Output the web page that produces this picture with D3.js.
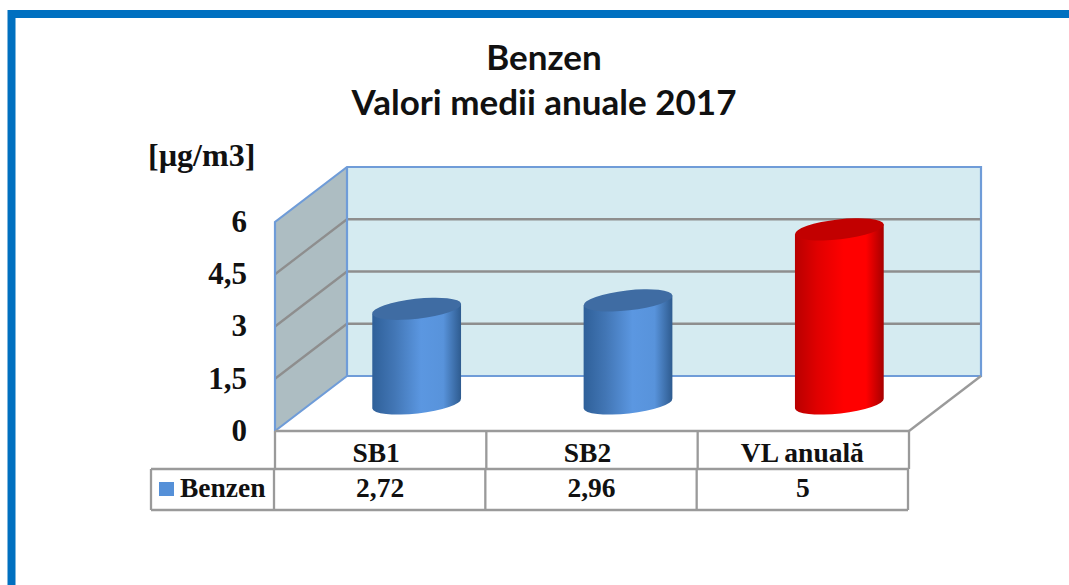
<!DOCTYPE html>
<html>
<head>
<meta charset="utf-8">
<script src="https://cdn.jsdelivr.net/npm/d3@7"></script>
<style>
  html, body { margin: 0; padding: 0; background: #fff; overflow: hidden; }
  svg { display: block; }
  .serif { font-family: "Liberation Serif", serif; font-weight: bold; fill: #111; }
  .title { font-family: Lato, sans-serif; font-weight: bold; fill: #111; font-size: 35px; }
</style>
</head>
<body>
<svg></svg>
<script>
// data
const categories = ["SB1", "SB2", "VL anuală"];
const values = [2.72, 2.96, 5];
const valueLabels = ["2,72", "2,96", "5"];
const tickValues = [0, 1.5, 3, 4.5, 6];
const tickLabels = ["0", "1,5", "3", "4,5", "6"];
const seriesName = "Benzen";
const titleLines = ["Benzen", "Valori medii anuale 2017"];
const unit = "[µg/m3]";

const width = 1069;
const height = 585;

// 3d box: front edge and how far the back wall is shifted
const front = { left: 275, right: 909, bottom: 431, top: 222 };
const depth = { x: 72, y: -55 };

const svg = d3.select("svg")
  .attr("width", width)
  .attr("height", height);

// scales, one per depth plane
const yFront = d3.scaleLinear().domain([0, 6]).range([front.bottom, front.top]);
const yBack = d3.scaleLinear().domain([0, 6]).range([front.bottom + depth.y, front.top + depth.y]);
const yMid = d3.scaleLinear().domain([0, 6]).range([front.bottom + depth.y / 2, front.top + depth.y / 2]);
const xFront = d3.scaleBand().domain(categories).range([front.left, front.right]);
const xMid = d3.scaleBand().domain(categories)
  .range([front.left + depth.x / 2, front.right + depth.x / 2])
  .paddingInner(0.58).paddingOuter(0.29);

// slide frame
svg.append("rect")
  .attr("x", 11.5).attr("y", 14)
  .attr("width", width + 40).attr("height", height + 40)
  .attr("fill", "none")
  .attr("stroke", "#0070c0")
  .attr("stroke-width", 8);

// title
svg.append("g").selectAll("text")
  .data(titleLines)
  .enter()
  .append("text")
  .attr("class", "title")
  .attr("x", 544)
  .attr("y", (d, i) => 70 + i * 45)
  .attr("text-anchor", "middle")
  .text(d => d);

svg.append("text")
  .attr("class", "serif")
  .attr("x", 148)
  .attr("y", 166)
  .attr("font-size", 32)
  .text(unit);

const wallStroke = "#6f9cd8";
const gridStroke = "#8e8e8e";
const backLeft = front.left + depth.x;
const backRight = front.right + depth.x;

// back wall
svg.append("rect")
  .attr("x", backLeft).attr("y", yBack(6))
  .attr("width", backRight - backLeft).attr("height", yBack(0) - yBack(6))
  .attr("fill", "#d5ebf1");

// side wall
svg.append("path")
  .attr("d", d3.line()([
    [front.left, yFront(0)], [front.left, yFront(6)],
    [backLeft, yBack(6)], [backLeft, yBack(0)]
  ]) + "Z")
  .attr("fill", "#adbdc2");

// gridlines
svg.append("g").selectAll("path")
  .data(tickValues.slice(1, -1))
  .enter()
  .append("path")
  .attr("d", d => d3.line()([[front.left, yFront(d)], [backLeft, yBack(d)], [backRight, yBack(d)]]))
  .attr("fill", "none")
  .attr("stroke", gridStroke)
  .attr("stroke-width", 2.3);

// wall outlines
svg.append("path")
  .attr("d", d3.line()([
    [front.left, yFront(0)], [front.left, yFront(6)], [backLeft, yBack(6)],
    [backRight, yBack(6)], [backRight, yBack(0)], [backLeft, yBack(0)], [front.left, yFront(0)]
  ]))
  .attr("fill", "none")
  .attr("stroke", wallStroke)
  .attr("stroke-width", 2.2);
svg.append("path")
  .attr("d", d3.line()([[backLeft, yBack(6)], [backLeft, yBack(0)]]))
  .attr("stroke", wallStroke)
  .attr("stroke-width", 2.2);

// floor right edge
svg.append("path")
  .attr("d", d3.line()([[front.right, yFront(0)], [backRight, yBack(0)]]))
  .attr("stroke", "#9a9a9a")
  .attr("stroke-width", 2.3);

// cylinder gradients
const defs = svg.append("defs");
const gradients = {
  blue: ["#2f6099", "#4276b5", "#5b97e1", "#5893db", "#2e5b8f"],
  red: ["#b80000", "#e00000", "#ff0000", "#ff0000", "#a60000"]
};
Object.keys(gradients).forEach(key => {
  const g = defs.append("linearGradient").attr("id", "cyl-" + key);
  g.selectAll("stop")
    .data(gradients[key])
    .enter()
    .append("stop")
    .attr("offset", (d, i) => [0, 0.25, 0.55, 0.8, 1][i])
    .attr("stop-color", d => d);
});

const tilt = 5;
const ry = 10;
const bars = svg.append("g").selectAll("g")
  .data(categories)
  .enter()
  .append("g");

bars.append("path")
  .attr("d", (d, i) => {
    const x0 = xMid(d);
    const x1 = x0 + xMid.bandwidth();
    const rx = Math.hypot(x1 - x0, tilt * 2) / 2;
    const yb = yMid(0);
    const yt = yMid(values[i]);
    return `M${x0},${yt + tilt}L${x0},${yb + tilt}A${rx},${ry} -6.4 0 0 ${x1},${yb - tilt}L${x1},${yt - tilt}Z`;
  })
  .attr("fill", (d, i) => i === 2 ? "url(#cyl-red)" : "url(#cyl-blue)");

bars.append("path")
  .attr("d", (d, i) => {
    const x0 = xMid(d);
    const x1 = x0 + xMid.bandwidth();
    const rx = Math.hypot(x1 - x0, tilt * 2) / 2;
    const yt = yMid(values[i]);
    return `M${x0},${yt + tilt}A${rx},${ry} -6.4 1 1 ${x1},${yt - tilt}A${rx},${ry} -6.4 1 1 ${x0},${yt + tilt}Z`;
  })
  .attr("fill", (d, i) => i === 2 ? "#c20000" : "#3f6ca3");

// y axis
const yAxis = d3.axisLeft(yFront)
  .tickValues(tickValues)
  .tickSize(0)
  .tickPadding(0)
  .tickFormat((d, i) => tickLabels[i]);

const yG = svg.append("g")
  .attr("transform", "translate(247,0)")
  .call(yAxis);
yG.select(".domain").remove();
yG.selectAll("text")
  .attr("class", "serif")
  .attr("font-size", 31)
  .attr("dy", "0.3em");

// data table
const tableStroke = "#9a9a9a";
const rowTop = front.bottom;
const rowMid = 469;
const rowBottom = 510;
const legendLeft = 151;
const table = svg.append("g")
  .attr("fill", "none")
  .attr("stroke", tableStroke)
  .attr("stroke-width", 2.3);

table.append("path").attr("d", d3.line()([[front.left, rowTop], [front.right, rowTop]]));
table.append("path").attr("d", d3.line()([[legendLeft, rowMid], [front.right, rowMid]]));
table.append("path").attr("d", d3.line()([[legendLeft, rowBottom], [front.right - 1, rowBottom]]));
table.append("path").attr("d", d3.line()([[legendLeft, rowMid], [legendLeft, rowBottom]]));

const tableEdges = [front.left].concat(categories.map(d => xFront(d) + xFront.bandwidth()));
table.selectAll(".edge")
  .data(tableEdges)
  .enter()
  .append("path")
  .attr("class", "edge")
  .attr("d", d => d3.line()([[d, rowTop], [d, rowMid]]) + d3.line()([[d - 1, rowMid], [d - 1, rowBottom]]));

// the first two labels sit a little left of their cell centre in the original
svg.append("g").selectAll("text")
  .data(categories)
  .enter()
  .append("text")
  .attr("class", "serif")
  .attr("x", (d, i) => xFront(d) + xFront.bandwidth() / 2 + (i < 2 ? -4.5 : -1))
  .attr("y", 462)
  .attr("text-anchor", "middle")
  .attr("font-size", 27.5)
  .text(d => d);

svg.append("g").selectAll("text")
  .data(valueLabels)
  .enter()
  .append("text")
  .attr("class", "serif")
  .attr("x", (d, i) => xFront(categories[i]) + xFront.bandwidth() / 2 - 0.5)
  .attr("y", 497)
  .attr("text-anchor", "middle")
  .attr("font-size", 27.5)
  .text(d => d);

// legend key inside table
svg.append("rect")
  .attr("x", 159).attr("y", 482)
  .attr("width", 15).attr("height", 14)
  .attr("fill", "#5590d8");
svg.append("text")
  .attr("class", "serif")
  .attr("x", 180)
  .attr("y", 497)
  .attr("font-size", 27.5)
  .text(seriesName);
</script>
</body>
</html>
